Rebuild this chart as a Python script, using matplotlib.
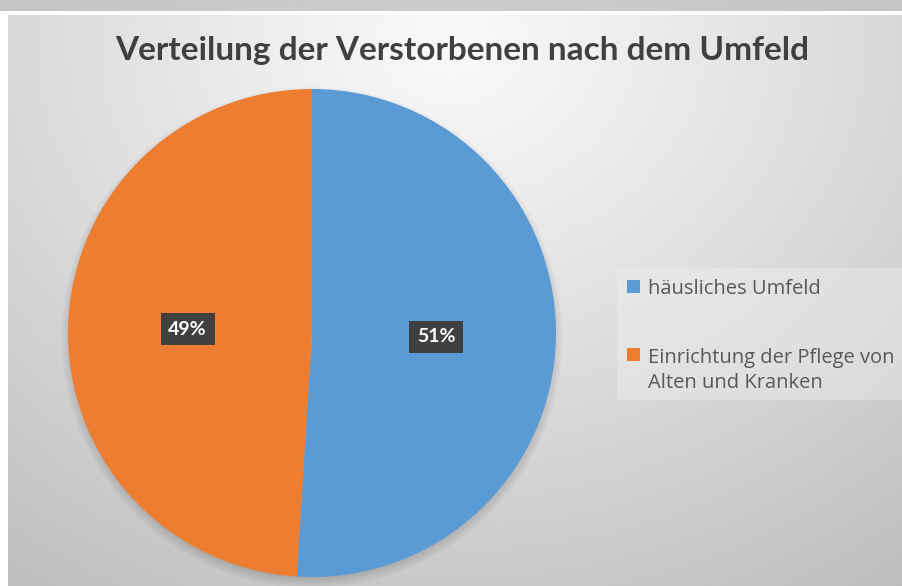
import numpy as np
import matplotlib.pyplot as plt
from matplotlib.patches import Rectangle

plt.rcParams['font.family'] = ['Lato', 'DejaVu Sans']

# data
labels = ['häusliches Umfeld', 'Einrichtung der Pflege von\nAlten und Kranken']
values = [51, 49]
colors = ['#5b9bd5', '#ed7d31']
title = 'Verteilung der Verstorbenen nach dem Umfeld'

W, H = 903, 586
fig = plt.figure(figsize=(W / 100, H / 100), dpi=100)

# background: slide strip on top + gray radial gradient panel
bg = fig.add_axes([0, 0, 1, 1])
bg.set_xlim(0, W)
bg.set_ylim(H, 0)
bg.axis('off')
bg.add_patch(Rectangle((0, 0), W, H, color='white', zorder=0))

xs = np.linspace(0, W, 300)
strip = 0.80 - 0.03 * np.abs(xs - W / 2) / (W / 2)
bg.imshow(np.tile(strip, (5, 1)), cmap='gray', vmin=0, vmax=1,
          extent=(0, W, 11, 0), aspect='auto', zorder=1)

gx, gy = np.meshgrid(np.linspace(8, W, 400), np.linspace(15, H, 300))
d = np.hypot((gx - 451) / 1.0, (gy - 40) / 0.85)
panel = np.clip(0.975 - 0.19 * (d / 650) ** 1.1, 0.74, 1)
bg.imshow(panel, cmap='gray', vmin=0, vmax=1,
          extent=(8, W, H, 15), aspect='auto', zorder=1)

# light box behind legend
bg.add_patch(Rectangle((617, 268), W - 617, 132, color='#eeeeee',
                       alpha=0.45, lw=0, zorder=2))

# pie
cx, cy, r = 312, 333, 244
ax = fig.add_axes([(cx - r * 1.05) / W, (H - cy - r * 1.05) / H,
                   2.1 * r / W, 2.1 * r / H])
ax.axis('off')

# soft shadow under the pie
for k in range(8):
    circ = plt.Circle((0, -0.018), 0.985 + 0.006 * k, color='black',
                      alpha=0.018, lw=0, zorder=0)
    ax.add_patch(circ)

wedges, texts, autotexts = ax.pie(
    values, colors=colors, startangle=90, counterclock=False,
    autopct='%.0f%%', pctdistance=0.51,
    wedgeprops=dict(linewidth=0))
ax.set_xlim(-1.05, 1.05)
ax.set_ylim(-1.05, 1.05)
for t in autotexts:
    t.set_color('white')
    t.set_fontsize(14)
    t.set_fontweight('bold')
    t.set_bbox(dict(boxstyle='square,pad=0.4', fc='#404040', ec='none'))

# legend, drawn by hand so the square sits on the first text line
leg_y = [294, 362]
line_gap = 26
for lab, col, yb in zip(labels, colors, leg_y):
    n = lab.count('\n')
    bg.add_patch(Rectangle((627, yb - 14), 13.5, 13, color=col, lw=0, zorder=3))
    bg.text(648, yb + n * line_gap, lab, ha='left', va='baseline',
            fontsize=14.5, family=['Open Sans', 'DejaVu Sans'],
            color='#595959', linespacing=1.3, zorder=3)

bg.text(462, 60, title, ha='center', va='baseline',
        fontsize=24, fontweight='bold', color='#404040', zorder=3)

fig.savefig('out.png', dpi=100)
